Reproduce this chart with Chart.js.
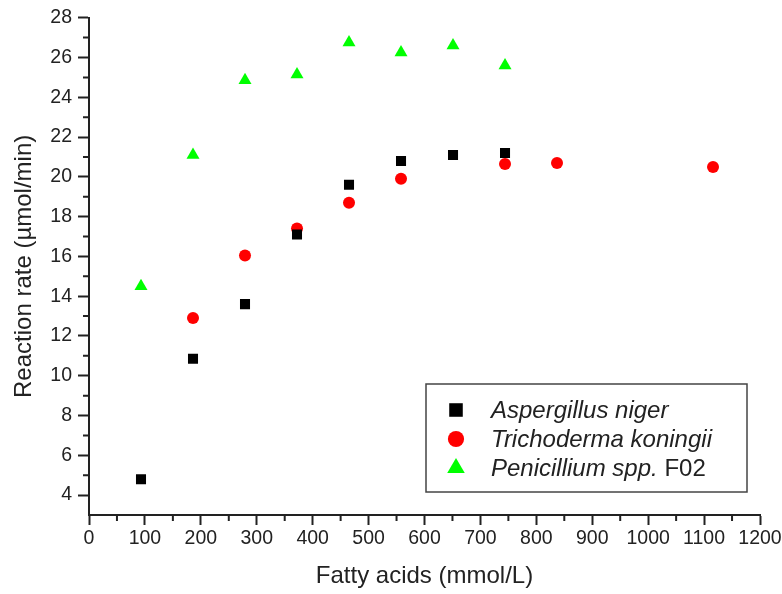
<!DOCTYPE html>
<html>
<head>
<meta charset="utf-8">
<script src="https://cdn.jsdelivr.net/npm/chart.js@4/dist/chart.umd.min.js"></script>
<style>
  body { margin: 0; background: #fff; }
</style>
</head>
<body>
<canvas id="chart" width="782" height="594"></canvas>
<script>
// data
const xAsp = [93, 186, 279, 372, 465, 558, 651, 744];
const yAsp = [4.8, 10.85, 13.6, 17.1, 19.6, 20.8, 21.1, 21.2];
const xTri = [186, 279, 372, 465, 558, 744, 837, 1116];
const yTri = [12.9, 16.05, 17.4, 18.7, 19.9, 20.65, 20.7, 20.5];
const xPen = [93, 186, 279, 372, 465, 558, 651, 744];
const yPen = [14.5, 21.1, 24.85, 25.15, 26.75, 26.25, 26.6, 25.6];

const xTicks = [0, 100, 200, 300, 400, 500, 600, 700, 800, 900, 1000, 1100, 1200];
const yTicks = [4, 6, 8, 10, 12, 14, 16, 18, 20, 22, 24, 26, 28];

const seriesNames = ['Aspergillus niger', 'Trichoderma koningii', 'Penicillium spp.'];

const toPoints = (xs, ys) => xs.map((x, i) => ({ x: x, y: ys[i] }));

Chart.defaults.font.family = '"Liberation Sans", Arial, sans-serif';
Chart.defaults.color = '#222';

const styles = [
  { pointStyle: 'rect', radius: 7.1, color: '#000000' },
  { pointStyle: 'circle', radius: 6, color: '#ff0000' },
  { pointStyle: 'triangle', radius: 7.5, color: '#00ff00' }
];

// minor ticks between the labelled ones
const minorTicks = {
  id: 'minorTicks',
  afterDraw(chart) {
    const ctx = chart.ctx;
    const xs = chart.scales.x, ys = chart.scales.y;
    const area = chart.chartArea;
    ctx.save();
    ctx.strokeStyle = '#222';
    ctx.lineWidth = 2;
    ctx.beginPath();
    for (let i = 0; i < xTicks.length - 1; i++) {
      const px = xs.getPixelForValue((xTicks[i] + xTicks[i + 1]) / 2);
      ctx.moveTo(px, area.bottom);
      ctx.lineTo(px, area.bottom + 6);
    }
    for (let i = 0; i < yTicks.length - 1; i++) {
      const py = ys.getPixelForValue((yTicks[i] + yTicks[i + 1]) / 2);
      ctx.moveTo(area.left, py);
      ctx.lineTo(area.left - 6, py);
    }
    ctx.stroke();
    ctx.restore();
  }
};

// boxed legend inside the plot, bottom right
const boxLegend = {
  id: 'boxLegend',
  afterDraw(chart) {
    const ctx = chart.ctx;
    const box = { left: 426, top: 384, width: 321, height: 108 };
    ctx.save();
    ctx.strokeStyle = '#444';
    ctx.lineWidth = 1.5;
    ctx.strokeRect(box.left, box.top, box.width, box.height);
    const rows = [410, 439, 468];
    ctx.textBaseline = 'middle';
    ctx.textAlign = 'left';
    rows.forEach((y, i) => {
      const s = styles[i];
      ctx.fillStyle = s.color;
      ctx.strokeStyle = s.color;
      Chart.helpers.drawPoint(ctx, { pointStyle: s.pointStyle, radius: s.radius * 1.35, rotation: 0, borderWidth: 0 }, 456, y);
      ctx.fillStyle = '#222';
      ctx.font = 'italic 24px "Liberation Sans", Arial, sans-serif';
      ctx.fillText(seriesNames[i], 491, y + 1);
      if (i === 2) {
        const w = ctx.measureText(seriesNames[i]).width;
        ctx.font = '24px "Liberation Sans", Arial, sans-serif';
        ctx.fillText(' F02', 491 + w, y + 1);
      }
    });
    ctx.restore();
  }
};

const ctx = document.getElementById('chart').getContext('2d');
new Chart(ctx, {
  type: 'scatter',
  data: {
    datasets: [
      { label: seriesNames[0], data: toPoints(xAsp, yAsp) },
      { label: seriesNames[1], data: toPoints(xTri, yTri) },
      { label: seriesNames[2] + ' F02', data: toPoints(xPen, yPen) }
    ].map((d, i) => Object.assign(d, {
      pointStyle: styles[i].pointStyle,
      pointRadius: styles[i].radius,
      pointHoverRadius: styles[i].radius,
      backgroundColor: styles[i].color,
      borderColor: styles[i].color,
      pointBorderWidth: 0
    }))
  },
  options: {
    responsive: false,
    animation: false,
    devicePixelRatio: 1,
    layout: { padding: { left: 0, right: 22, top: 17.5, bottom: 0 } },
    plugins: {
      legend: { display: false },
      tooltip: { enabled: false }
    },
    scales: {
      x: {
        type: 'linear',
        min: 0,
        max: 1200,
        afterBuildTicks: scale => { scale.ticks = xTicks.map(v => ({ value: v })); },
        afterFit: scale => { scale.height = 79; scale.paddingRight = 0; scale.paddingLeft = 0; },
        border: { display: true, color: '#222', width: 2 },
        grid: { drawOnChartArea: false, drawTicks: true, tickLength: 10, tickWidth: 2, tickColor: '#222' },
        ticks: { font: { size: 19.5 }, padding: 2, maxRotation: 0, callback: v => String(v) },
        title: { display: true, text: 'Fatty acids (mmol/L)', font: { size: 24 }, padding: { top: 0, bottom: 3 } }
      },
      y: {
        type: 'linear',
        min: 3,
        max: 28,
        afterBuildTicks: scale => { scale.ticks = yTicks.map(v => ({ value: v })); },
        afterFit: scale => { scale.width = 89; },
        border: { display: true, color: '#222', width: 2 },
        grid: { drawOnChartArea: false, drawTicks: true, tickLength: 11, tickWidth: 2, tickColor: '#222' },
        ticks: { font: { size: 19.5 }, padding: 6, callback: v => String(v) },
        title: { display: true, text: 'Reaction rate (µmol/min)', font: { size: 24 }, padding: { top: 10, bottom: 0 } }
      }
    }
  },
  plugins: [minorTicks, boxLegend]
});
</script>
</body>
</html>
